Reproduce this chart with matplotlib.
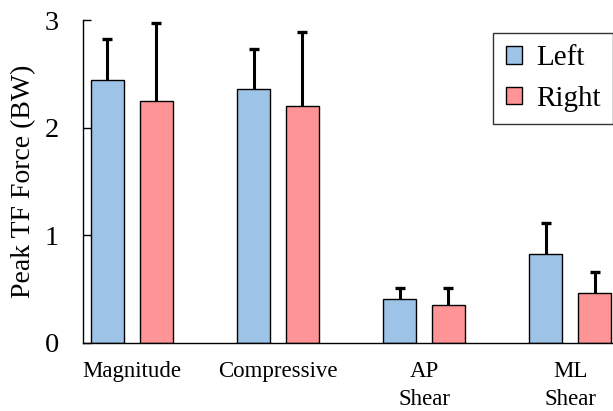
import numpy as np
import matplotlib
matplotlib.use("Agg")
import matplotlib.pyplot as plt

categories = ["Magnitude", "Compressive", "AP\nShear", "ML\nShear"]
left_mean = [2.44, 2.36, 0.41, 0.82]
left_sd = [0.38, 0.37, 0.10, 0.29]
right_mean = [2.25, 2.20, 0.35, 0.465]
right_sd = [0.72, 0.69, 0.16, 0.19]

plt.rcParams["font.family"] = ["Liberation Serif", "DejaVu Serif"]

fig = plt.figure(figsize=(6.13, 4.11), dpi=100)
ax = fig.add_axes([83 / 613, (411 - 342.7) / 411, (613 - 83) / 613, 322.7 / 411])

x = np.arange(len(categories))
w = 0.224
off = 0.1675

for pos, mean, sd, col, lab in [(x - off, left_mean, left_sd, "#9DC3E6", "Left"),
                                (x + off, right_mean, right_sd, "#FF9497", "Right")]:
    ax.bar(pos, mean, w, color=col, edgecolor="black", linewidth=1, label=lab, zorder=2)
    # one-sided (upper) error bars, cap only on top
    ax.errorbar(pos, mean, yerr=[np.zeros(len(pos)), sd], fmt="none",
                ecolor="black", elinewidth=2.2, capsize=0, zorder=3)
    ax.plot(pos, np.add(mean, sd), ls="none", marker="_", ms=6.5, mew=2.4,
            color="black", zorder=3)

ax.set_xlim(-0.335, 3.294)
ax.set_ylim(0, 3)
ax.set_yticks([0, 1, 2, 3])
ax.set_xticks(x)
ax.set_xticklabels(categories, fontsize=16.5, linespacing=1.4)
ax.tick_params(axis="x", length=0, pad=13.5)
ax.tick_params(axis="y", direction="in", length=6, width=1, labelsize=20.5, pad=17.5)
for s in ["top", "right"]:
    ax.spines[s].set_visible(False)
ax.spines["left"].set_linewidth(1)
ax.spines["bottom"].set_linewidth(1)

ax.set_ylabel("Peak TF Force (BW)", fontsize=20)
ax.yaxis.set_label_coords(-0.088, 0.5)

leg = ax.legend(loc="upper right", bbox_to_anchor=(1.0, (342.7 - 33) / 322.7),
                fontsize=21, frameon=True, fancybox=False, edgecolor="black",
                handlelength=0.55, handleheight=0.55, handletextpad=0.5,
                labelspacing=0.5, borderpad=0.42, borderaxespad=0)
leg.get_frame().set_linewidth(1)

fig.savefig("out.png", dpi=100)
